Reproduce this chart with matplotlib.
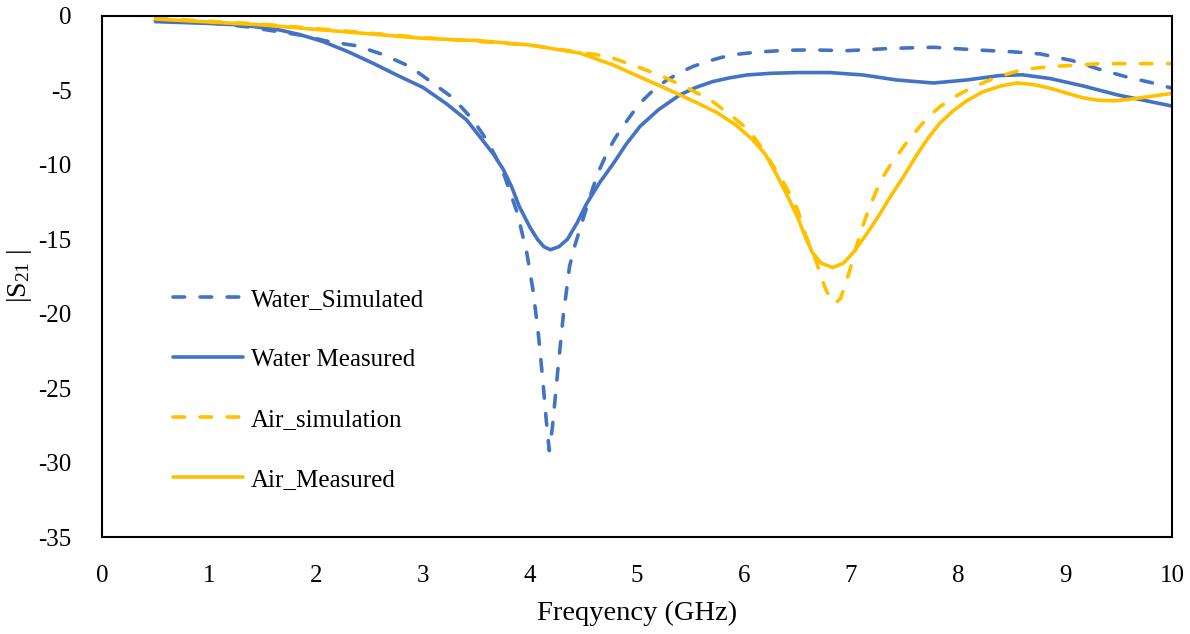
import matplotlib
matplotlib.use("Agg")
import matplotlib.pyplot as plt

plt.rcParams['font.family'] = ['Liberation Serif', 'DejaVu Serif']
plt.rcParams['mathtext.fontset'] = 'custom'
plt.rcParams['mathtext.rm'] = 'Liberation Serif'
plt.rcParams['mathtext.it'] = 'Liberation Serif:italic'
plt.rcParams['axes.unicode_minus'] = False

# Frequency (GHz) / |S21| (dB) samples for each trace
water_sim_f = [0.5, 1.0, 1.35, 1.6, 1.85, 2.13, 2.38, 2.63, 2.88, 3.07, 3.28, 3.47,
               3.61, 3.74, 3.88, 3.97, 4.03, 4.08, 4.12, 4.15, 4.18, 4.21, 4.26,
               4.31, 4.37, 4.42, 4.48, 4.59, 4.65, 4.72, 4.78, 4.84, 4.9, 4.96,
               5.05, 5.15, 5.27, 5.4, 5.52, 5.65, 5.78, 5.9, 6.05, 6.18, 6.4,
               6.65, 6.96, 7.4, 7.77, 8.23, 8.5, 8.77, 9.07, 9.33, 9.58, 9.82, 10.0]
water_sim_s = [-0.3, -0.45, -0.72, -1.0, -1.28, -1.73, -2.0, -2.6, -3.4, -4.4, -5.5, -7.0,
               -8.5, -10.3, -13.2, -15.9, -18.5, -21.5, -24.5, -27.0, -29.2, -27.6, -23.8,
               -20.2, -16.8, -15.4, -14.0, -11.5, -10.3, -9.2, -8.4, -7.7, -7.1, -6.5,
               -5.7, -5.0, -4.35, -3.8, -3.4, -3.07, -2.8, -2.6, -2.48, -2.4, -2.3,
               -2.28, -2.33, -2.17, -2.1, -2.3, -2.4, -2.55, -3.0, -3.6, -4.1, -4.5, -4.85]

water_meas_f = [0.5, 0.8, 1.0, 1.29, 1.5, 1.66, 1.85, 2.07, 2.3, 2.54, 2.75, 3.0,
                3.22, 3.41, 3.53, 3.65, 3.75, 3.83, 3.9, 4.0, 4.07, 4.13, 4.19,
                4.27, 4.35, 4.44, 4.53, 4.65, 4.78, 4.9, 5.03, 5.2, 5.4, 5.55,
                5.71, 5.87, 6.03, 6.25, 6.5, 6.8, 7.11, 7.43, 7.77, 8.08, 8.39,
                8.6, 8.86, 9.17, 9.49, 10.0]
water_meas_s = [-0.38, -0.45, -0.5, -0.6, -0.78, -0.94, -1.25, -1.73, -2.4, -3.2, -3.95, -4.8,
                -5.9, -7.0, -8.1, -9.2, -10.3, -11.5, -12.8, -14.2, -15.0, -15.5, -15.7,
                -15.5, -15.0, -13.9, -12.6, -11.2, -9.9, -8.6, -7.4, -6.3, -5.3, -4.8,
                -4.4, -4.15, -3.96, -3.85, -3.8, -3.8, -3.96, -4.3, -4.5, -4.3, -4.0,
                -3.95, -4.2, -4.7, -5.3, -6.05]

air_sim_f = [0.5, 1.0, 1.5, 2.0, 2.5, 3.0, 3.5, 4.0, 4.47, 4.72, 4.96, 5.21, 5.46,
             5.68, 5.9, 6.0, 6.09, 6.17, 6.24, 6.31, 6.37, 6.44, 6.5, 6.57, 6.63,
             6.68, 6.72, 6.76, 6.8, 6.85, 6.9, 6.95, 7.0, 7.05, 7.1, 7.17, 7.24,
             7.3, 7.36, 7.44, 7.52, 7.6, 7.67, 7.75, 7.83, 7.95, 8.08, 8.2, 8.33,
             8.46, 8.6, 8.73, 8.86, 9.11, 9.33, 10.0]
air_sim_s = [-0.15, -0.35, -0.55, -0.85, -1.15, -1.45, -1.7, -1.95, -2.45, -2.7, -3.3, -3.96, -4.8,
             -5.6, -6.8, -7.4, -8.1, -8.9, -9.7, -10.5, -11.2, -12.1, -13.0, -14.6, -15.7,
             -16.6, -17.5, -18.3, -18.9, -19.3, -19.0, -18.0, -16.8, -15.5, -14.3, -12.9, -11.7,
             -10.8, -10.1, -9.3, -8.5, -7.8, -7.2, -6.6, -6.1, -5.5, -5.0, -4.6, -4.2,
             -3.9, -3.6, -3.5, -3.4, -3.3, -3.2, -3.2]

air_meas_f = [0.5, 1.0, 1.5, 2.0, 2.5, 3.0, 3.53, 4.0, 4.47, 4.78, 5.09, 5.25, 5.4,
              5.58, 5.75, 5.92, 6.08, 6.2, 6.3, 6.4, 6.5, 6.57, 6.64, 6.72, 6.83,
              6.93, 7.02, 7.15, 7.27, 7.38, 7.49, 7.6, 7.71, 7.83, 7.95, 8.08, 8.23,
              8.4, 8.55, 8.7, 8.86, 9.0, 9.17, 9.3, 9.45, 9.6, 9.8, 10.0]
air_meas_s = [-0.2, -0.4, -0.6, -0.9, -1.2, -1.5, -1.66, -1.95, -2.5, -3.3, -4.3, -4.8, -5.3,
              -5.9, -6.5, -7.3, -8.3, -9.3, -10.6, -12.0, -13.5, -14.8, -15.9, -16.6, -16.9,
              -16.6, -15.9, -14.6, -13.3, -12.0, -10.8, -9.5, -8.3, -7.2, -6.4, -5.7, -5.1,
              -4.7, -4.5, -4.6, -4.85, -5.15, -5.5, -5.65, -5.7, -5.6, -5.4, -5.2]

labels = ['Water_Simulated', 'Water Measured', 'Air_simulation', 'Air_Measured']
blue = '#4472C4'
gold = '#FFC000'

fig = plt.figure(figsize=(11.9, 6.34), dpi=100)
ax = fig.add_axes([102 / 1190, 1 - 537 / 634, 1070 / 1190, 521 / 634])

lw = 2.6
dash_kw = dict(linestyle=(0, (3.2, 4.3)), dash_capstyle='round')
ax.plot(water_sim_f, water_sim_s, color=blue, lw=lw, label=labels[0], **dash_kw)
ax.plot(water_meas_f, water_meas_s, color=blue, lw=lw, label=labels[1],
        solid_capstyle='round', solid_joinstyle='round')
ax.plot(air_sim_f, air_sim_s, color=gold, lw=lw, label=labels[2], **dash_kw)
ax.plot(air_meas_f, air_meas_s, color=gold, lw=lw, label=labels[3],
        solid_capstyle='round', solid_joinstyle='round')

ax.set_xlim(0, 10)
ax.set_ylim(-35, 0)
ax.set_xticks(range(0, 11))
ax.set_yticks(range(-35, 1, 5))
ax.tick_params(length=0, labelsize=18)
ax.tick_params(axis='x', pad=20)
ax.tick_params(axis='y', pad=22)
for sp in ax.spines.values():
    sp.set_linewidth(1.5)
    sp.set_color('black')

ax.set_xlabel('Freqyency (GHz)', fontsize=20.5, labelpad=10)
ax.set_ylabel(r'|S$_{\mathrm{21}}$ |', fontsize=20)
ax.yaxis.set_label_coords(-0.064, 0.5)

ax.legend(loc='upper left', bbox_to_anchor=(0.0574, 0.496), frameon=False,
          fontsize=18, handlelength=2.8, handletextpad=0.3,
          labelspacing=1.5, borderaxespad=0)

fig.savefig('out.png', dpi=100)
